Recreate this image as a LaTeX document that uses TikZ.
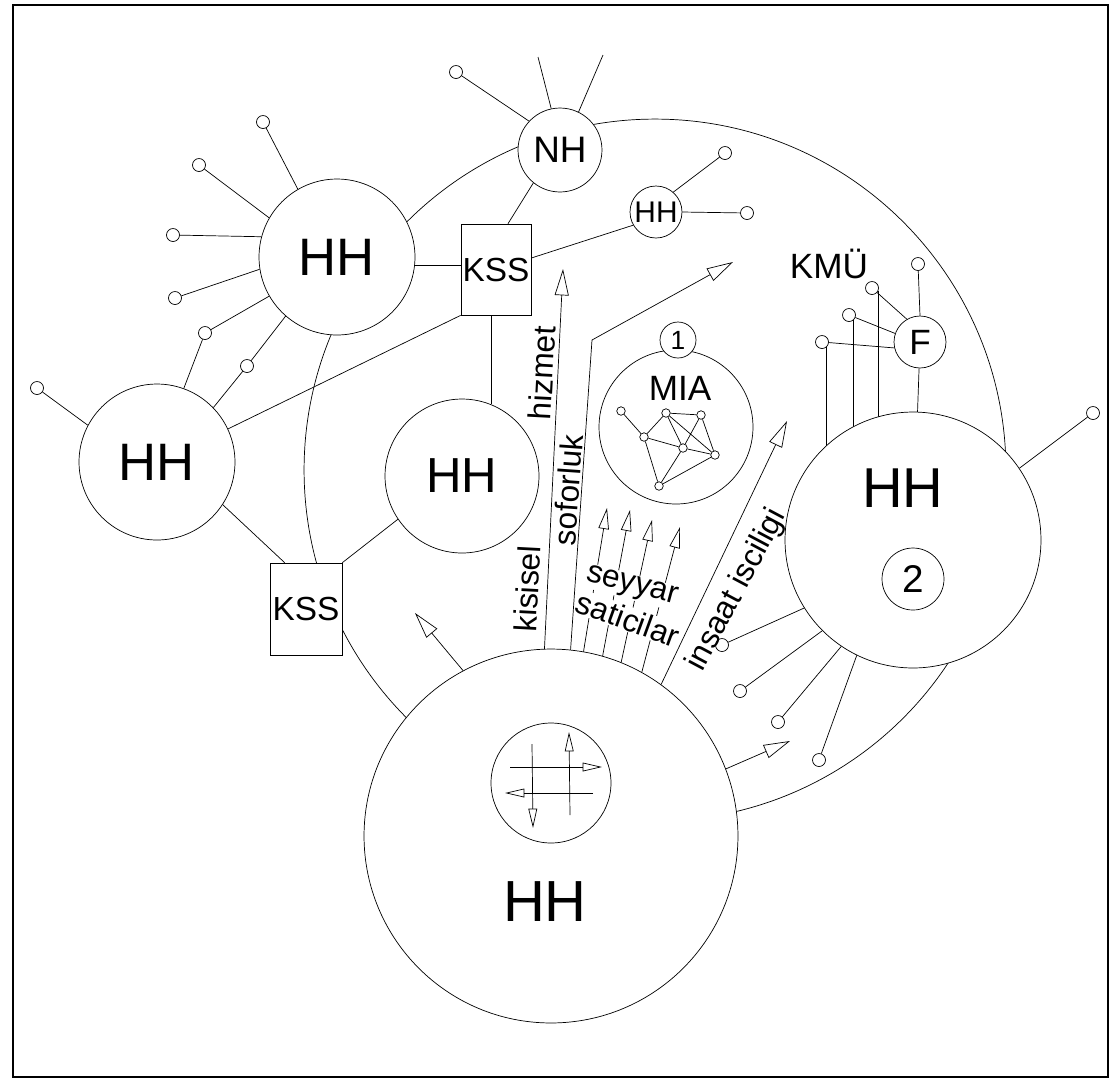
\documentclass[tikz,border=0pt]{standalone}
\usepackage{fontspec}
\setmainfont{Liberation Sans}
\usetikzlibrary{arrows.meta,calc}
\pgfdeclarelayer{bg}
\pgfsetlayers{bg,main}
\begin{document}
\begin{tikzpicture}[x=0.02cm,y=-0.02cm,line width=1.2pt,
  fs/.style={font=\fontsize{#1}{#1}\selectfont},
  circ/.style={circle,draw,fill=white,inner sep=0pt},
  sdot/.style={circle,draw,fill=white,inner sep=0pt,minimum size=0.26cm},
  ndot/.style={circle,draw,fill=white,inner sep=0pt,minimum size=0.17cm},
  sbox/.style={rectangle,draw,fill=white,inner sep=0pt},
  arr/.style={-{Triangle[open,length=15pt,width=8pt]}},
  sarr/.style={-{Triangle[open,length=12pt,width=6pt]}},
  iarr/.style={-{Triangle[open,length=11pt,width=5pt]}},
  lbl/.style={fs=18,inner sep=1pt},
]
\useasboundingbox (0,0) rectangle (1116,1080);
\draw[line width=1.5pt] (13,5) rectangle (1108,1077);

% big ring
\begin{pgfonlayer}{bg}
\draw (655,470) circle[radius=7.02cm];
\end{pgfonlayer}

% main nodes
\node[circ,minimum size=3.12cm,fs=30] (THH) at (337,257) {HH};
\node[circ,minimum size=3.12cm,fs=30] (LHH) at (157,462) {HH};
\node[circ,minimum size=3.08cm,fs=28] (CHH) at (462,476) {HH};
\node[circ,minimum size=3.08cm] (MIA) at (676,427) {};
\node[fs=20,inner sep=0pt] (MIAl) at (680,388) {MIA};
\node[circ,minimum size=0.72cm,fs=15] (one) at (678,340) {1};
\node[circ,minimum size=7.48cm] (BH) at (551,836) {};
\node[circ,minimum size=2.4cm] (IC) at (551,783) {};
\node[fs=33,inner sep=0pt] (BHl) at (545,902) {HH};
\node[circ,minimum size=5.12cm] (HH2) at (913,540) {};
\node[fs=32,inner sep=0pt] (HH2l) at (903,488) {HH};
\node[circ,minimum size=1.24cm,fs=22] (two) at (913,579) {2};
\node[circ,minimum size=1.68cm,fs=21] (NH) at (560,150) {NH};
\node[circ,minimum size=1.04cm,fs=17] (SHH) at (656,212) {HH};
\node[circ,minimum size=1.04cm,fs=20] (F) at (920,342) {F};
\node[sbox,minimum width=1.4cm,minimum height=1.82cm,fs=19] (KSS1) at (496,269.5) {KSS};
\node[sbox,minimum width=1.44cm,minimum height=1.84cm,fs=19] (KSS2) at (306,609) {KSS};
\node[fs=20,inner sep=0pt] (KMU) at (829,264) {KMÜ};

% small end circles
\node[sdot] (t1) at (263,122) {};
\node[sdot] (t2) at (199,165) {};
\node[sdot] (t3) at (173,235) {};
\node[sdot] (t4) at (175,298) {};
\node[sdot] (t5) at (205,333) {};
\node[sdot] (t6) at (247,366) {};
\node[sdot] (l1) at (37,388) {};
\node[sdot] (n1) at (456,72) {};
\node[sdot] (h1) at (725,153) {};
\node[sdot] (h2) at (747,213) {};
\node[sdot] (f1) at (918,264) {};
\node[sdot] (f2) at (872,288) {};
\node[sdot] (f3) at (849,315) {};
\node[sdot] (f4) at (822,342) {};
\node[sdot] (r1) at (1093,413) {};
\node[sdot] (r2) at (722,645) {};
\node[sdot] (r3) at (740,691) {};
\node[sdot] (r4) at (778,722) {};
\node[sdot] (r5) at (819,760) {};

% MIA network
\node[ndot] (ma) at (621,411) {};
\node[ndot] (mb) at (666,413) {};
\node[ndot] (mc) at (701,415) {};
\node[ndot] (md) at (644,437) {};
\node[ndot] (me) at (683,448) {};
\node[ndot] (mf) at (715,455) {};
\node[ndot] (mg) at (659,486) {};
\draw (ma) -- (md) (md) -- (mb) (mb) -- (mc) (mb) -- (me) (mb) -- (mf)
      (mc) -- (me) (mc) -- (mf) (md) -- (me) (md) -- (mg) (me) -- (mf)
      (me) -- (mg) (mg) -- (mf);

% spokes of top HH
\draw (THH.120.8) -- (t1);
\draw (THH.150) -- (t2);
\draw (THH.165.8) -- (t3);
\draw (THH.189.6) -- (t4);
\draw (THH.210.8) -- (t5);
\draw (THH.229.4) -- (t6);
\draw (THH.354) -- (THH.354 -| KSS1.west);
% left HH
\draw (LHH.152.8) -- (l1);
\draw (LHH.70.6) -- (t5);
\draw (LHH.44.5) -- (t6);
\draw (LHH.25.6) -- (KSS1.south west);
\draw (LHH.-33.3) -- ($(KSS2.north west)+(15,0)$);
% centre HH
\draw (CHH.68) -- (CHH.68 |- KSS1.south);
\draw (CHH.214.5) -- (KSS2.north east);
% NH
\coordinate (nA) at (538,57);
\coordinate (nB) at (603,55);
\draw (NH.137.8) -- (n1);
\draw (NH.102.7) -- (nA);
\draw (NH.64.6) -- (nB);
\draw (NH.231.8) -- ($(KSS1.north)+(12,0)$);
% small HH
\draw (SHH.49.6) -- (h1);
\draw (SHH.0) -- (h2);
\draw (SHH.210) -- ($(KSS1.east)+(0,-11.5)$);
% F
\draw (F) -- (HH2);
\draw (F.90) -- (f1);
\draw (F.120) -- (f2);
\draw (F.161) -- (f3);
\draw (F.193) -- (f4);
\begin{pgfonlayer}{bg}
\draw (f2.-30) -- (f2.-30 |- HH2.center);
\draw (f3.-50) -- (f3.-50 |- HH2.center);
\draw (f4.-50) -- (f4.-50 |- HH2.center);
\end{pgfonlayer}
% HH2 spokes
\draw (HH2.34.8) -- (r1);
\draw (HH2.212) -- (r2);
\draw (HH2.225) -- (r3);
\draw (HH2.236) -- (r4);
\draw (HH2.244) -- (r5);

% arrows out of bottom HH
\coordinate (tipK) at (563,269);
\coordinate (bendS) at (592,340);
\coordinate (tipS) at (733,262);
\coordinate (tipY1) at (607,508);
\coordinate (tipY2) at (630,510);
\coordinate (tipY3) at (652,520);
\coordinate (tipY4) at (680,527);
\coordinate (tipI) at (787,421);
\coordinate (tipL) at (415,613);
\coordinate (tipR) at (790,741);

\draw[sarr] (BH.80.4) -- (tipY1);
\draw[sarr] (BH.74.3) -- (tipY2);
\draw[sarr] (BH.68) -- (tipY3);
\draw[sarr] (BH.61.7) -- (tipY4);
\node[lbl,rotate=-15,fill=white,inner sep=0.5pt] (tSey) at (632,587) {seyyar};
\node[lbl,rotate=-20,fill=white,inner sep=0.5pt] (tSat) at (628,619) {saticilar};

\draw[arr] (BH.92) -- (tipK);
\draw[arr] (BH.84) -- (bendS) -- (tipS);
\draw[arr] (BH.54.7) -- (tipI);
\draw[arr] (BH.118.7) -- (tipL);
\draw[arr] (BH.21.1) -- (tipR);

\node[lbl,rotate=87] (tKis) at (527,589) {kisisel};
\node[lbl,rotate=87] (tHiz) at (542,373) {hizmet};
\node[lbl,rotate=86] (tSof) at (568,490) {soforluk};
\node[lbl,rotate=62] (tIns) at (737,590) {insaat isciligi};

% arrows inside inner circle
\coordinate (i1a) at (510,767); \coordinate (i1b) at (602,767);
\coordinate (i2a) at (593,793); \coordinate (i2b) at (505,793);
\coordinate (i3a) at (532,744); \coordinate (i3b) at (533,828);
\coordinate (i4a) at (570,815); \coordinate (i4b) at (569,732);
\draw[iarr] (i1a) -- (i1b);
\draw[iarr] (i2a) -- (i2b);
\draw[iarr] (i3a) -- (i3b);
\draw[iarr] (i4a) -- (i4b);
\end{tikzpicture}
\end{document}
